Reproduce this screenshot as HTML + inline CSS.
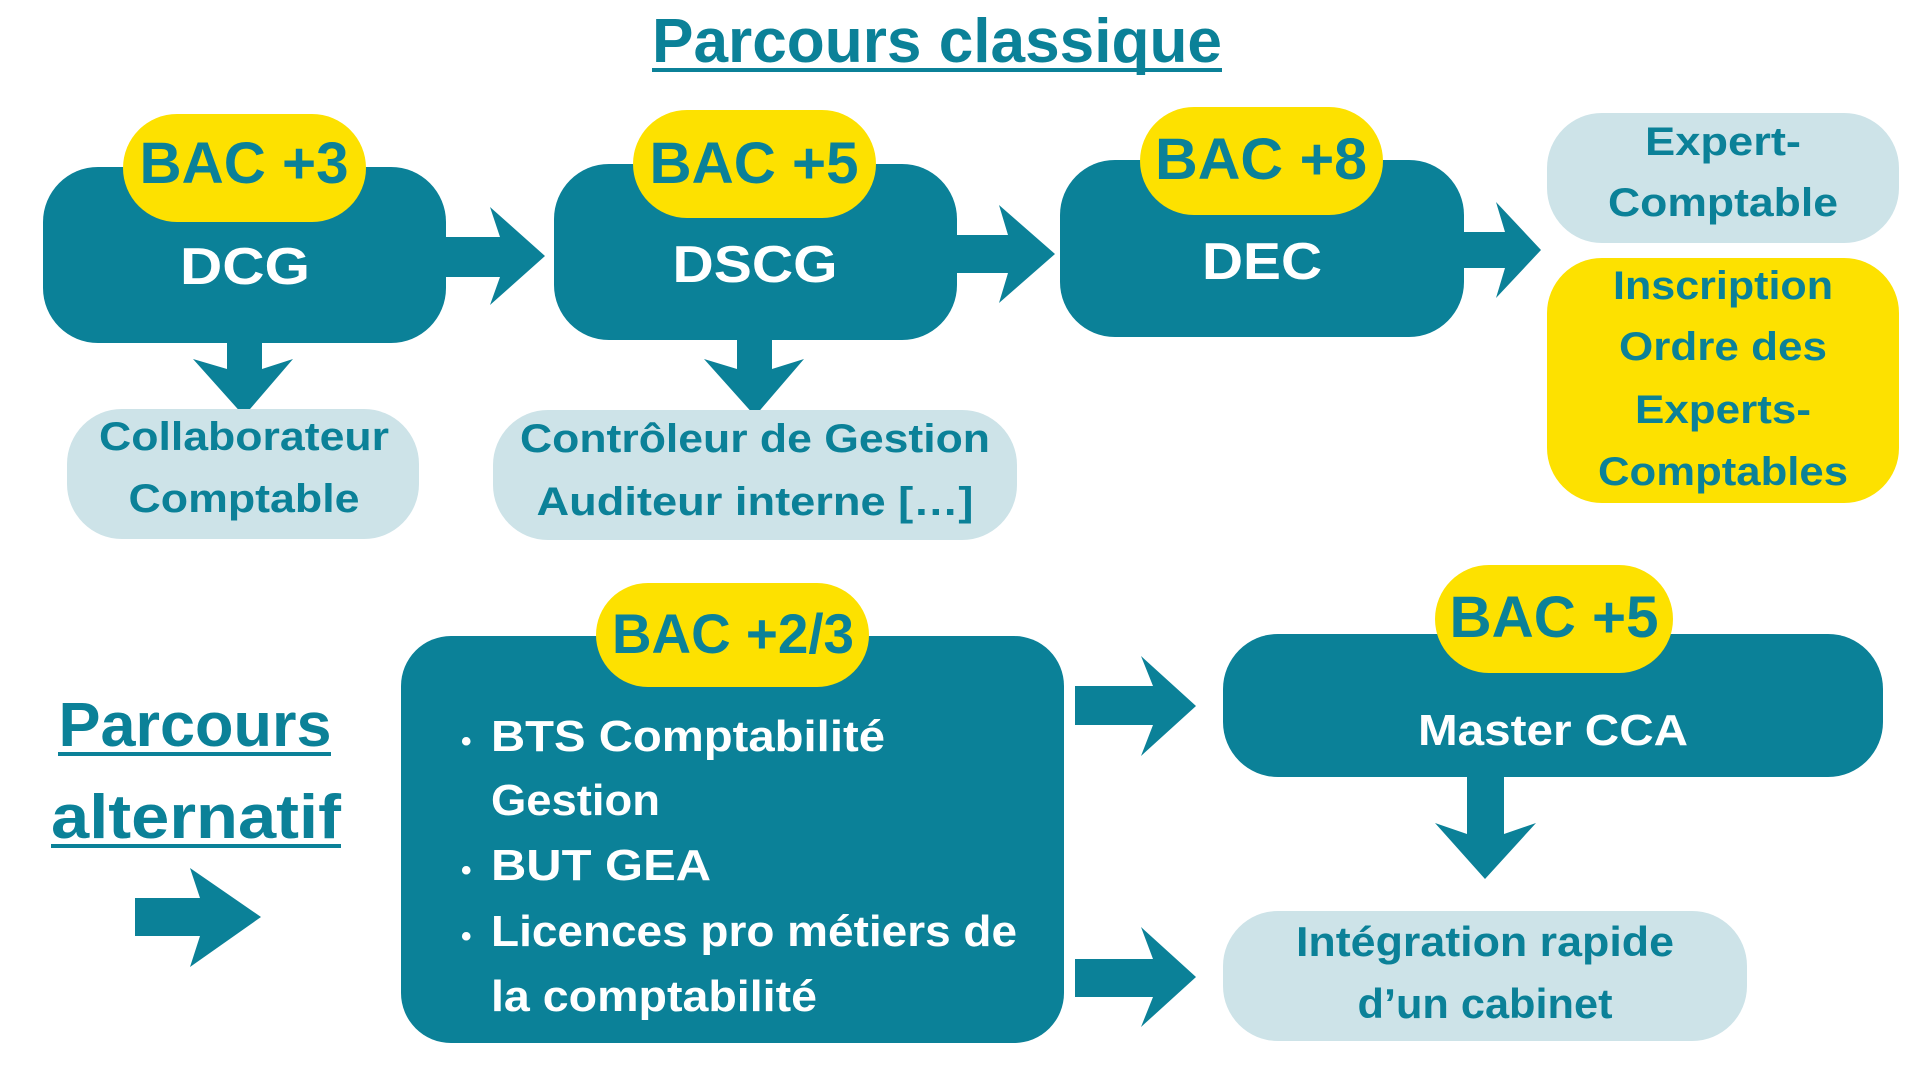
<!DOCTYPE html>
<html><head><meta charset="utf-8"><style>
html,body{margin:0;padding:0;background:#fff;}
svg{display:block}
text{font-family:"Liberation Sans Narrow","Liberation Sans",sans-serif;font-weight:bold;}
</style></head><body>
<svg width="1920" height="1080" viewBox="0 0 1920 1080" xmlns="http://www.w3.org/2000/svg">
<defs>
<style>.t{fill:#0b8198}.w{fill:#fff}</style>
</defs>
<text x="937" y="62" font-size="62" text-anchor="middle" class="t" textLength="570" lengthAdjust="spacingAndGlyphs">Parcours classique</text>
<rect x="652" y="68" width="570" height="4" fill="#0b8198"/>

<rect x="43" y="167" width="403" height="176" rx="55" fill="#0b8198"/>
<rect x="123" y="114" width="243" height="108" rx="54" fill="#fde100"/>
<text x="244" y="183" font-size="58" text-anchor="middle" class="t" textLength="209" lengthAdjust="spacingAndGlyphs">BAC +3</text>
<text x="245" y="284" font-size="52" text-anchor="middle" class="w" textLength="130" lengthAdjust="spacingAndGlyphs">DCG</text>

<rect x="554" y="164" width="403" height="176" rx="55" fill="#0b8198"/>
<rect x="633" y="110" width="243" height="108" rx="54" fill="#fde100"/>
<text x="754" y="183" font-size="58" text-anchor="middle" class="t" textLength="209" lengthAdjust="spacingAndGlyphs">BAC +5</text>
<text x="755" y="282" font-size="52" text-anchor="middle" class="w" textLength="165" lengthAdjust="spacingAndGlyphs">DSCG</text>

<rect x="1060" y="160" width="404" height="177" rx="55" fill="#0b8198"/>
<rect x="1140" y="107" width="243" height="108" rx="54" fill="#fde100"/>
<text x="1261" y="179" font-size="58" text-anchor="middle" class="t" textLength="212" lengthAdjust="spacingAndGlyphs">BAC +8</text>
<text x="1262" y="279" font-size="52" text-anchor="middle" class="w" textLength="120" lengthAdjust="spacingAndGlyphs">DEC</text>

<polygon points="446,237 500,237 490,207 545,256 490,305 500,277 446,277" fill="#0b8198"/>
<polygon points="957,235 1008,235 999,205 1055,254 999,303 1008,273 957,273" fill="#0b8198"/>
<polygon points="1464,232 1505,232 1496,202 1541,250 1496,298 1505,268 1464,268" fill="#0b8198"/>

<polygon points="227,343 262,343 262,369 293,359 244,416 193,359 227,369" fill="#0b8198"/>
<polygon points="737,340 772,340 772,369 804,359 755,416 704,359 737,369" fill="#0b8198"/>

<rect x="67" y="409" width="352" height="130" rx="55" fill="#cde3e8"/>
<text x="244" y="450" font-size="40" text-anchor="middle" class="t" textLength="290" lengthAdjust="spacingAndGlyphs">Collaborateur</text>
<text x="244" y="512" font-size="40" text-anchor="middle" class="t" textLength="231" lengthAdjust="spacingAndGlyphs">Comptable</text>

<rect x="493" y="410" width="524" height="130" rx="55" fill="#cde3e8"/>
<text x="755" y="452" font-size="40" text-anchor="middle" class="t" textLength="470" lengthAdjust="spacingAndGlyphs">Contrôleur de Gestion</text>
<text x="755" y="515" font-size="40" text-anchor="middle" class="t" textLength="437" lengthAdjust="spacingAndGlyphs">Auditeur interne […]</text>

<rect x="1547" y="113" width="352" height="130" rx="55" fill="#cde3e8"/>
<text x="1723" y="155" font-size="40" text-anchor="middle" class="t" textLength="156" lengthAdjust="spacingAndGlyphs">Expert-</text>
<text x="1723" y="216" font-size="40" text-anchor="middle" class="t" textLength="230" lengthAdjust="spacingAndGlyphs">Comptable</text>

<rect x="1547" y="258" width="352" height="245" rx="55" fill="#fde100"/>
<text x="1723" y="299" font-size="40" text-anchor="middle" class="t" textLength="220" lengthAdjust="spacingAndGlyphs">Inscription</text>
<text x="1723" y="360" font-size="40" text-anchor="middle" class="t" textLength="208" lengthAdjust="spacingAndGlyphs">Ordre des</text>
<text x="1723" y="423" font-size="40" text-anchor="middle" class="t" textLength="176" lengthAdjust="spacingAndGlyphs">Experts-</text>
<text x="1723" y="485" font-size="40" text-anchor="middle" class="t" textLength="250" lengthAdjust="spacingAndGlyphs">Comptables</text>

<text x="195" y="746" font-size="62" text-anchor="middle" class="t" textLength="273" lengthAdjust="spacingAndGlyphs">Parcours</text>
<rect x="58" y="752" width="273" height="4" fill="#0b8198"/>
<text x="196" y="838" font-size="62" text-anchor="middle" class="t" textLength="290" lengthAdjust="spacingAndGlyphs">alternatif</text>
<rect x="51" y="844" width="290" height="4" fill="#0b8198"/>
<polygon points="135,898 200,898 190,868 261,917 190,967 200,936 135,936" fill="#0b8198"/>

<rect x="401" y="636" width="663" height="407" rx="50" fill="#0b8198"/>
<rect x="596" y="583" width="273" height="104" rx="52" fill="#fde100"/>
<text x="733" y="653" font-size="56" text-anchor="middle" class="t" textLength="242" lengthAdjust="spacingAndGlyphs">BAC +2/3</text>
<g class="w" font-size="44">
<text x="461" y="751" font-size="30">•</text>
<text x="491" y="751" textLength="394" lengthAdjust="spacingAndGlyphs">BTS Comptabilité</text>
<text x="491" y="815" textLength="169" lengthAdjust="spacingAndGlyphs">Gestion</text>
<text x="461" y="880" font-size="30">•</text>
<text x="491" y="880" textLength="220" lengthAdjust="spacingAndGlyphs">BUT GEA</text>
<text x="461" y="946" font-size="30">•</text>
<text x="491" y="946" textLength="526" lengthAdjust="spacingAndGlyphs">Licences pro métiers de</text>
<text x="491" y="1011" textLength="326" lengthAdjust="spacingAndGlyphs">la comptabilité</text>
</g>

<polygon points="1075,686 1153,686 1141,656 1196,706 1141,756 1153,725 1075,725" fill="#0b8198"/>
<polygon points="1075,959 1153,959 1141,927 1196,977 1141,1027 1153,997 1075,997" fill="#0b8198"/>

<rect x="1223" y="634" width="660" height="143" rx="55" fill="#0b8198"/>
<rect x="1435" y="565" width="238" height="108" rx="54" fill="#fde100"/>
<text x="1554" y="637" font-size="58" text-anchor="middle" class="t" textLength="209" lengthAdjust="spacingAndGlyphs">BAC +5</text>
<text x="1553" y="745" font-size="44" text-anchor="middle" class="w" textLength="270" lengthAdjust="spacingAndGlyphs">Master CCA</text>

<polygon points="1467,777 1504,777 1504,834 1536,823 1485,879 1435,823 1467,834" fill="#0b8198"/>

<rect x="1223" y="911" width="524" height="130" rx="55" fill="#cde3e8"/>
<text x="1485" y="956" font-size="42" text-anchor="middle" class="t" textLength="378" lengthAdjust="spacingAndGlyphs">Intégration rapide</text>
<text x="1485" y="1018" font-size="42" text-anchor="middle" class="t" textLength="255" lengthAdjust="spacingAndGlyphs">d’un cabinet</text>
</svg>
</body></html>
